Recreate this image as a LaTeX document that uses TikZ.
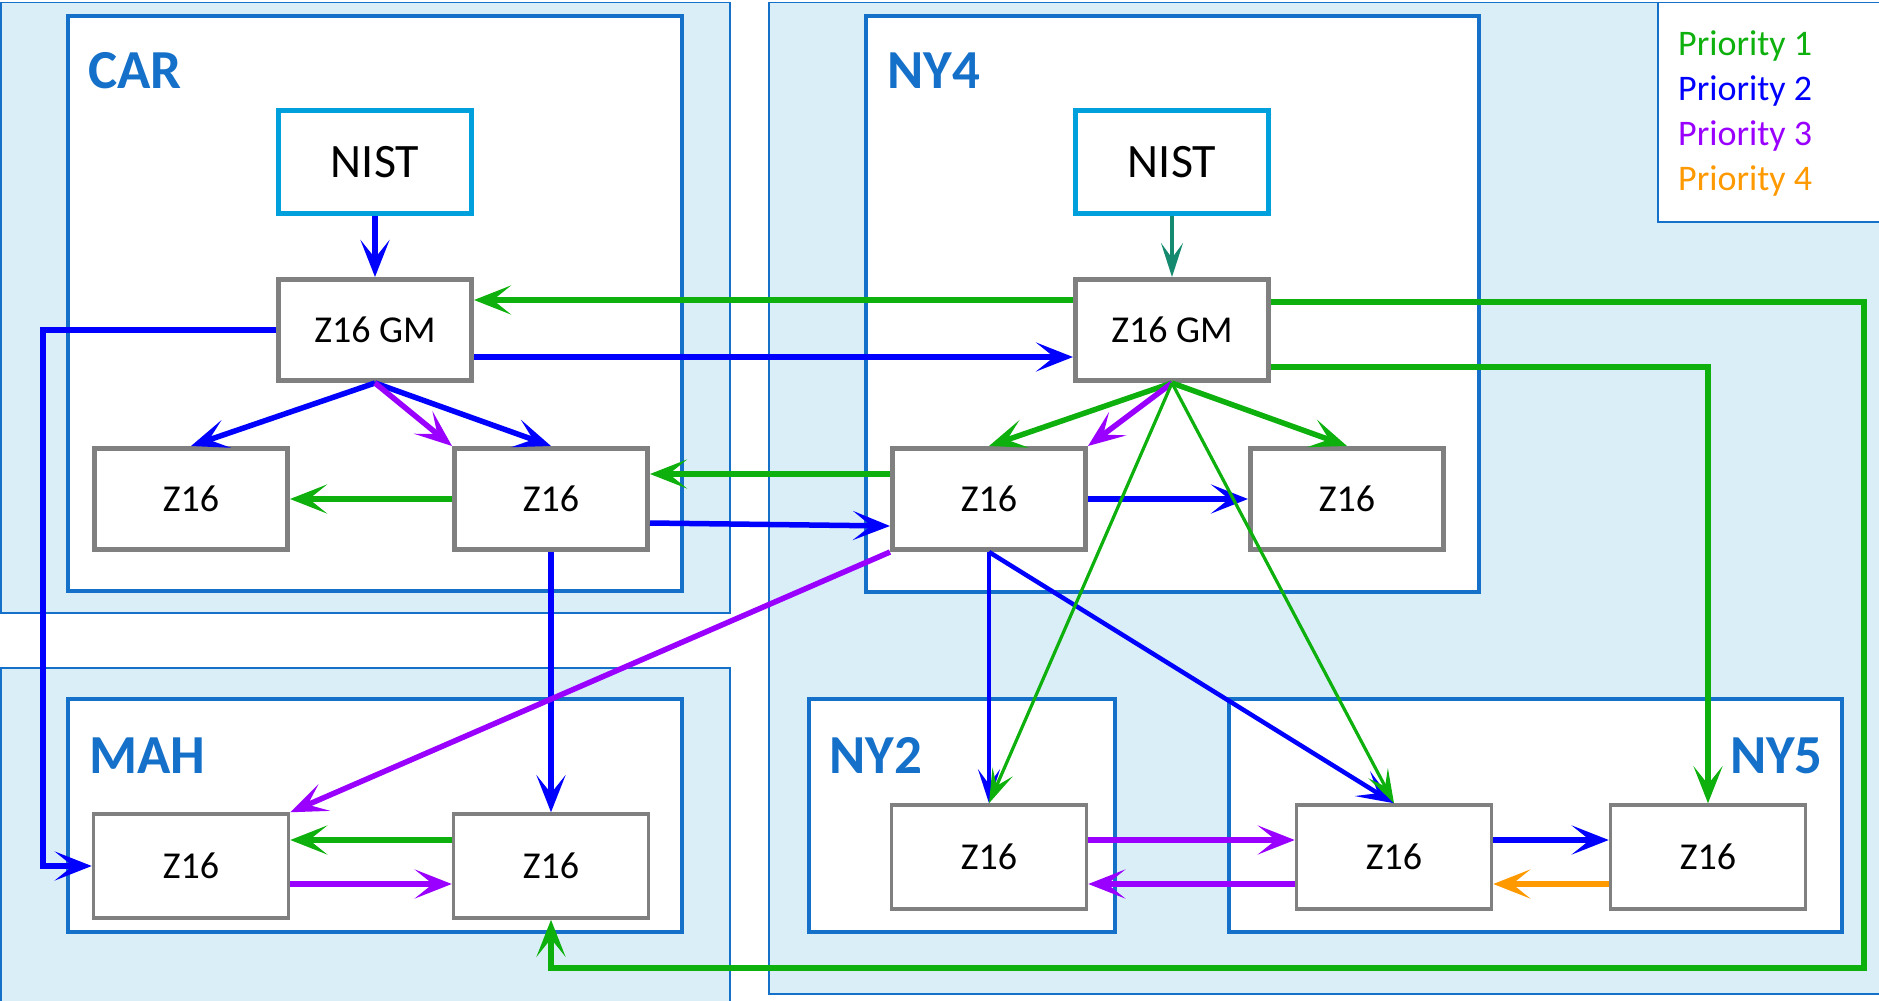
\documentclass[tikz,border=0pt]{standalone}
\usepackage{fontspec}
\setmainfont{Carlito}
\usetikzlibrary{arrows.meta}
\definecolor{pgreen}{RGB}{14,176,14}
\definecolor{pblue}{RGB}{0,0,255}
\definecolor{ppurple}{RGB}{153,0,255}
\definecolor{porange}{RGB}{255,153,0}
\definecolor{pteal}{RGB}{22,138,110}
\definecolor{boxgray}{RGB}{128,128,128}
\definecolor{nistblue}{RGB}{0,160,220}
\definecolor{contblue}{RGB}{20,112,200}
\definecolor{lightfill}{RGB}{218,238,248}
\tikzset{
  outerbox/.style={fill=lightfill,draw=contblue,line width=1.5pt},
  sitebox/.style={fill=white,draw=contblue,line width=3.5pt},
  sitelabel/.style={text=contblue,font=\fontsize{55}{57}\selectfont\bfseries,inner sep=0pt},
  bigbox/.style={draw=boxgray,fill=white,line width=5pt,minimum width=193pt,minimum height=101pt,inner sep=0pt,font=\fontsize{38}{40}\selectfont},
  smallbox/.style={draw=boxgray,fill=white,line width=3.5pt,minimum width=195pt,minimum height=104pt,inner sep=0pt,font=\fontsize{38}{40}\selectfont},
  nistbox/.style={draw=nistblue,fill=white,line width=5pt,minimum width=193pt,minimum height=103pt,inner sep=0pt,font=\fontsize{48}{50}\selectfont},
  arr/.style={-{Stealth[length=37pt,width=29pt,inset=18pt]}},
  arrthin/.style={-{Stealth[length=34pt,width=22pt,inset=15pt]}},
  thick5/.style={line width=5.5pt},
  thin3/.style={line width=3.2pt},
  legend/.style={anchor=base west,inner sep=0pt,font=\fontsize{36}{38}\selectfont}
}
\begin{document}
\begin{tikzpicture}[x=1pt,y=-1pt]
\useasboundingbox (0,0) rectangle (1879,1001);
\clip (0,0) rectangle (1879,1001);
% background
\fill[white] (0,0) rectangle (1879,1001);
% outer regions
\draw[outerbox] (0.75,2.5) rectangle (730,613);
\draw[outerbox] (0.75,668) rectangle (730,1010);
\draw[outerbox] (769,2.5) rectangle (1900,994);
% sites
\draw[sitebox] (68,16) rectangle (682,591);
\draw[sitebox] (68,699) rectangle (682,932);
\draw[sitebox] (866,16) rectangle (1479,592);
\draw[sitebox] (809,699) rectangle (1115,932);
\draw[sitebox] (1229,699) rectangle (1842,932);
% legend
\draw[fill=white,draw=contblue,line width=1.5pt] (1658,2.5) rectangle (1900,222);
\node[legend,text=pgreen] (l1) at (1678,55) {Priority 1};
\node[legend,text=pblue] (l2) at (1678,100) {Priority 2};
\node[legend,text=ppurple] (l3) at (1678,145) {Priority 3};
\node[legend,text=porange] (l4) at (1678,190) {Priority 4};
% site labels
\node[sitelabel,anchor=base west] (carlab) at (88,88) {CAR};
\node[sitelabel,anchor=base west] (ny4lab) at (887,88) {NY4};
\node[sitelabel,anchor=base west] (mahlab) at (89,773) {MAH};
\node[sitelabel,anchor=base west] (ny2lab) at (829,773) {NY2};
\node[sitelabel,anchor=base east] (ny5lab) at (1823,773) {NY5};
% nodes
\node[nistbox] (carnist) at (375,162) {NIST};
\node[bigbox] (cargm) at (375,330) {Z16 GM};
\node[bigbox] (carL) at (191,499) {Z16};
\node[bigbox] (carR) at (551,499) {Z16};
\node[nistbox] (nynist) at (1172,162) {NIST};
\node[bigbox] (nygm) at (1172,330) {Z16 GM};
\node[bigbox] (nyL) at (989,499) {Z16};
\node[bigbox] (nyR) at (1347,499) {Z16};
\node[smallbox] (mahL) at (191,866) {Z16};
\node[smallbox] (mahR) at (551,866) {Z16};
\node[smallbox] (ny2) at (989,857) {Z16};
\node[smallbox] (ny5L) at (1394,857) {Z16};
\node[smallbox] (ny5R) at (1708,857) {Z16};
\coordinate (lbus) at (43,600);
\coordinate (gcorner) at (1864,968);
% connectors CAR
\draw[pblue,thick5,arr] (carnist) -- (cargm);
\draw[pblue,thick5,arr] (cargm.west) -| (lbus) |- (mahL.west);
\draw[pblue,thick5,arr] ([yshift=-27pt]cargm.east) -- ([yshift=-27pt]nygm.west);
\draw[pgreen,thick5,arr] ([yshift=30pt]nygm.west) -- ([yshift=30pt]cargm.east);
\draw[pblue,thick5,arr] (cargm.south) -- (carL.north);
\draw[pblue,thick5,arr] (cargm.south) -- (carR.north);
\draw[ppurple,thick5,arr] (cargm.south) -- (carR.north west);
\draw[pgreen,thick5,arr] (carR.west) -- (carL.east);
\draw[pgreen,thick5,arr] ([yshift=25pt]nyL.west) -- ([yshift=25pt]carR.east);
\draw[pblue,thick5,arr] ([yshift=-24pt]carR.east) -- ([yshift=-27pt]nyL.west);
\draw[pblue,thick5,arr] (carR.south) -- (mahR.north);
\draw[ppurple,thick5,arr] (nyL.south west) -- (mahL.north east);
% MAH
\draw[pgreen,thick5,arr] ([yshift=26pt]mahR.west) -- ([yshift=26pt]mahL.east);
\draw[ppurple,thick5,arr] ([yshift=-18pt]mahL.east) -- ([yshift=-18pt]mahR.west);
% long green loops
\draw[pgreen,line width=6pt,arr] ([yshift=28pt]nygm.east) -| (gcorner) -| (mahR.south);
\draw[pgreen,thick5,arr] ([yshift=-37pt]nygm.east) -| (ny5R.north);
% NY4
\draw[pteal,thin3,arrthin] (nynist) -- (nygm);
\draw[pgreen,thick5,arr] (nygm.south) -- (nyL.north);
\draw[ppurple,thick5,arr] (nygm.south) -- (nyL.north east);
\draw[pgreen,thick5,arr] (nygm.south) -- (nyR.north);
\draw[pblue,thick5,arr] (nyL.east) -- (nyR.west);
\draw[pblue,thin3,arrthin] (nyL.south) -- (ny2.north);
\draw[pblue,line width=4.5pt,arr] (nyL.south) -- (ny5L.north);
\draw[pgreen,thin3,arrthin] (nygm.south) -- (ny2.north);
\draw[pgreen,thin3,arrthin] (nygm.south) -- (ny5L.north);
% NY2 / NY5
\draw[ppurple,thick5,arr] ([yshift=17pt]ny2.east) -- ([yshift=17pt]ny5L.west);
\draw[ppurple,thick5,arr] ([yshift=-27pt]ny5L.west) -- ([yshift=-27pt]ny2.east);
\draw[pblue,thick5,arr] ([yshift=17pt]ny5L.east) -- ([yshift=17pt]ny5R.west);
\draw[porange,thick5,arr] ([yshift=-27pt]ny5R.west) -- ([yshift=-27pt]ny5L.east);
\end{tikzpicture}
\end{document}
